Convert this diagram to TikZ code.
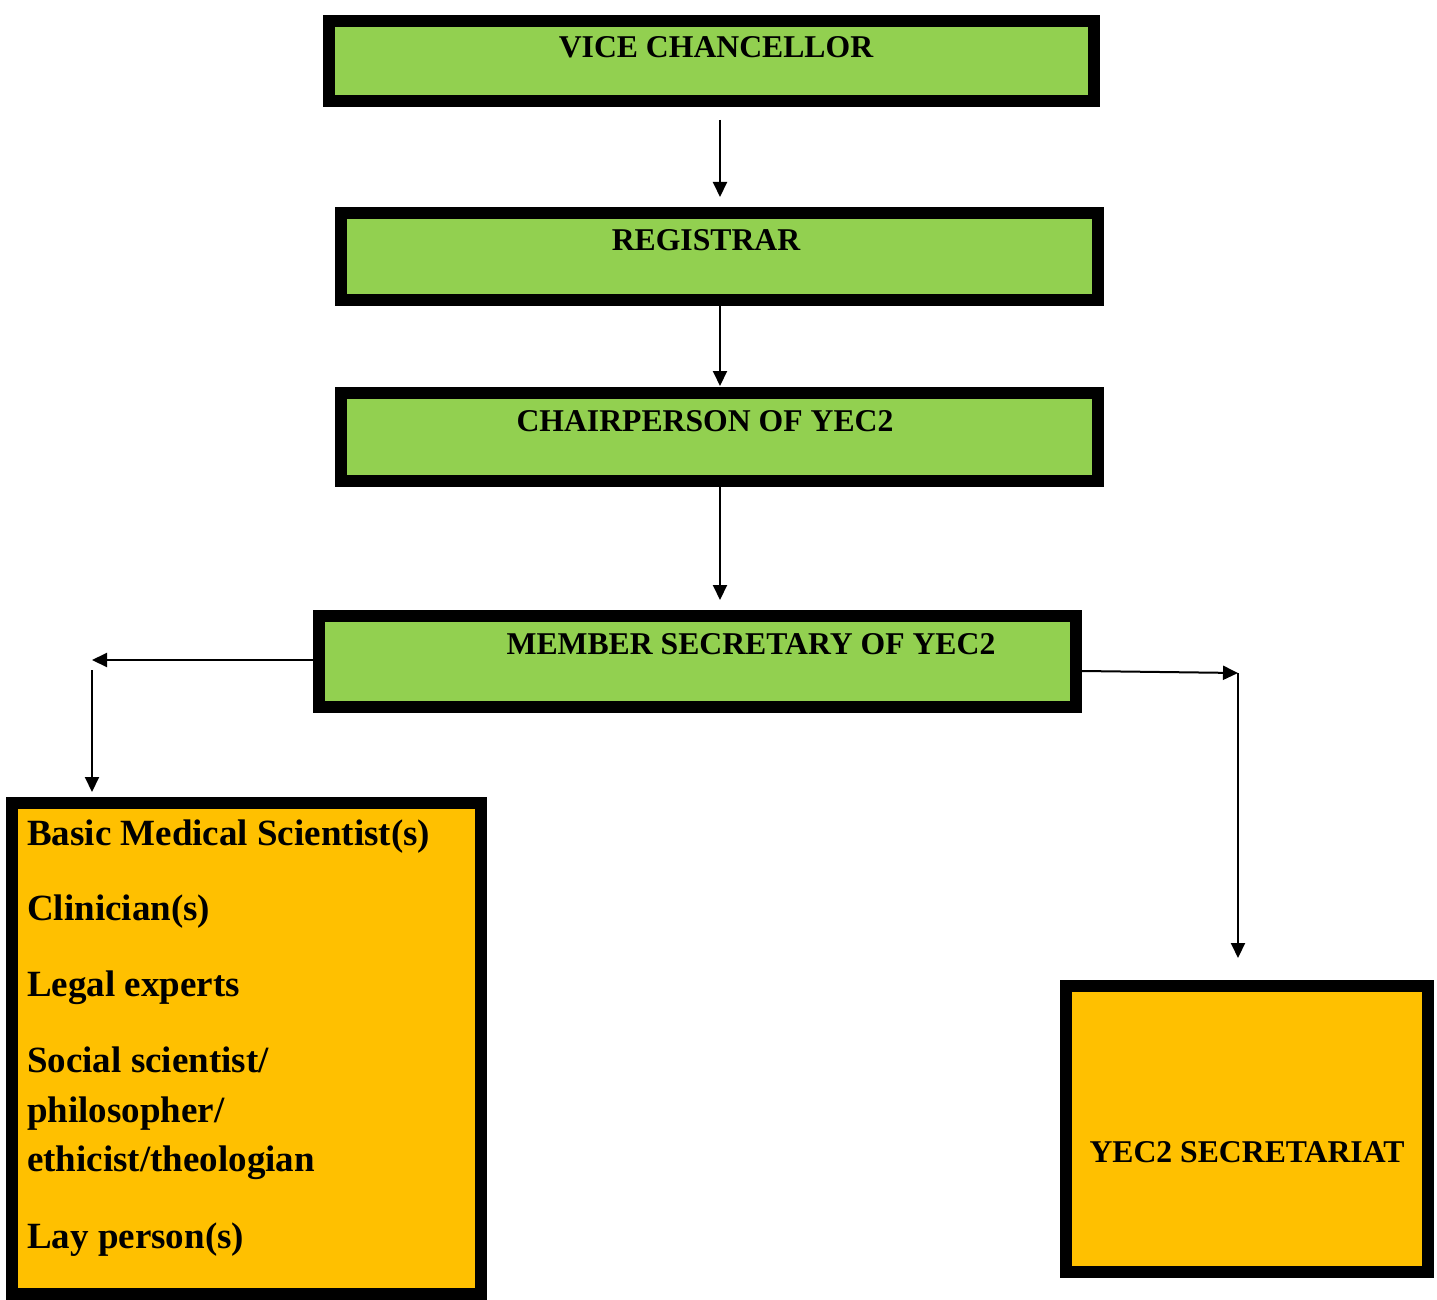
\documentclass[tikz,border=0pt]{standalone}
\usepackage{fontspec}
\setmainfont{Liberation Serif}
\usetikzlibrary{arrows.meta,calc}
\definecolor{boxgreen}{HTML}{92D050}
\definecolor{boxorange}{HTML}{FFC000}
\begin{document}
\begin{tikzpicture}[x=1pt,y=-1pt,
  greenbox/.style={draw=black,line width=12pt,fill=boxgreen,inner sep=0pt},
  orangebox/.style={draw=black,line width=12pt,fill=boxorange,inner sep=0pt},
  title/.style={font=\fontsize{31.7}{36}\selectfont\bfseries,inner sep=0pt,anchor=base},
  item/.style={font=\fontsize{37}{44}\selectfont\bfseries,inner sep=0pt,anchor=base west},
  conn/.style={line width=2pt,-{Triangle[length=15pt,width=14pt]}}]
\useasboundingbox (0,0) rectangle (1437,1300);
% boxes
\node[greenbox,minimum width=765pt,minimum height=80pt] (vc) at (711.5,61) {};
\node[greenbox,minimum width=757pt,minimum height=87pt] (reg) at (719.5,256.5) {};
\node[greenbox,minimum width=757pt,minimum height=88pt] (chair) at (719.5,437) {};
\node[greenbox,minimum width=757pt,minimum height=91pt] (member) at (697.5,661.5) {};
\node[orangebox,minimum width=469pt,minimum height=491pt] (members) at (246.5,1048.5) {};
\node[orangebox,minimum width=362pt,minimum height=286pt] (secr) at (1247,1129) {};
% titles
\node[title] (vct) at (716,58) {VICE CHANCELLOR};
\node[title] (regt) at (706,250) {REGISTRAR};
\node[title] (chairt) at (705,431) {CHAIRPERSON OF YEC2};
\node[title] (membert) at (751,654) {MEMBER SECRETARY OF YEC2};
\node[title] (secrt) at (1247,1162) {YEC2 SECRETARIAT};
% member list
\node[item] (m1) at (27,845) {Basic Medical Scientist(s)};
\node[item] (m2) at (27,920) {Clinician(s)};
\node[item] (m3) at (27,996) {Legal experts};
\node[item] (m4) at (27,1072) {Social scientist/};
\node[item] (m5) at (27,1122) {philosopher/};
\node[item] (m6) at (27,1171) {ethicist/theologian};
\node[item] (m7) at (27,1248) {Lay person(s)};
% connector coordinates
\coordinate (a1s) at (720,120);
\coordinate (a1e) at (720,197);
\coordinate (a3e) at (720,600);
\coordinate (lcorner) at (92,660);
\coordinate (lstart) at (92,670);
\coordinate (lend) at (92,792);
\coordinate (rcorner) at (1238,673);
\coordinate (rend) at (1238,958);
% connectors
\draw[conn] (a1s) -- (a1e);
\draw[conn] (reg.south -| a1s) -- ($(chair.north -| a1s)+(0,-1)$);
\draw[conn] (chair.south -| a1s) -- (a3e);
\draw[conn] (member.west |- lcorner) -- (lcorner);
\draw[conn] (lstart) -- (lend);
\draw[conn] ($(member.east)+(0,9.5)$) -- (rcorner);
\draw[conn] (rcorner) -- (rend);
\end{tikzpicture}
\end{document}
